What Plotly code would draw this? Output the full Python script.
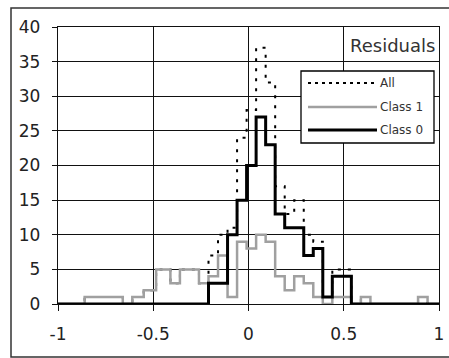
import plotly.graph_objects as go

# ---- data ----
# Bin edges (shared by Class 1 and All) and counts per bin
edges_c1 = [-1.0, -0.86, -0.66, -0.61, -0.55, -0.485, -0.41, -0.36, -0.26, -0.21,
            -0.16, -0.11, -0.06, -0.01, 0.04, 0.09, 0.14, 0.19, 0.24, 0.29,
            0.34, 0.39, 0.44, 0.54, 0.59, 0.64, 0.89, 0.94, 1.0]
class1 = [0, 1, 0, 1, 2, 5, 3, 5, 3, 4,
          7, 1, 9, 8, 10, 9, 4, 2, 4, 3,
          1, 0, 1, 0, 1, 0, 1, 0]
all_vals = [0, 1, 0, 1, 2, 5, 3, 5, 3, 7,
            10, 11, 24, 28, 37, 32, 17, 13, 15, 10,
            9, 1, 5, 0, 1, 0, 1, 0]

edges_c0 = [-1.0, -0.21, -0.11, -0.06, -0.01, 0.04, 0.09, 0.14, 0.19, 0.29,
            0.34, 0.39, 0.44, 0.54, 1.0]
class0 = [0, 3, 10, 15, 20, 27, 23, 13, 11, 7, 8, 1, 4, 0]

x_ticks = [-1, -0.5, 0, 0.5, 1]
x_tick_labels = ["-1", "-0.5", "0", "0.5", "1"]
y_ticks = [0, 5, 10, 15, 20, 25, 30, 35, 40]

series_names = ["All", "Class 1", "Class 0"]
title_text = "Residuals"

FONT = "DejaVu Sans"


def step_y(vals):
    return list(vals) + [vals[-1]]


fig = go.Figure()
fig.add_trace(go.Scatter(x=edges_c1, y=step_y(all_vals), mode="lines", line_shape="hv",
                         name=series_names[0],
                         line=dict(color="black", width=2, dash="3px,7px")))
fig.add_trace(go.Scatter(x=edges_c1, y=step_y(class1), mode="lines", line_shape="hv",
                         name=series_names[1],
                         line=dict(color="#a0a0a0", width=2.5)))
fig.add_trace(go.Scatter(x=edges_c0, y=step_y(class0), mode="lines", line_shape="hv",
                         name=series_names[2],
                         line=dict(color="black", width=3)))

# plot area in pixels: x 58..439, y 27..304
L, R, T, B = 58, 439, 27, 304
W, H = 449, 358


def px(xp):
    return (xp - L) / (R - L)


def py(yp):
    return (B - yp) / (B - T)


shapes = []
# outer chart border
shapes.append(dict(type="rect", xref="paper", yref="paper",
                   x0=px(11), x1=px(452), y0=py(357), y1=py(8),
                   line=dict(color="#333", width=1.5), fillcolor="rgba(0,0,0,0)",
                   layer="above"))
# legend box
shapes.append(dict(type="rect", xref="paper", yref="paper",
                   x0=px(301), x1=px(434), y0=py(143), y1=py(71),
                   line=dict(color="black", width=1.3), fillcolor="white", layer="above"))
legend_styles = [
    dict(color="black", width=2, dash="3px,4px"),
    dict(color="#a0a0a0", width=2.5),
    dict(color="black", width=3),
]
rows = [83, 107, 130]
annotations = []
for name, st, r in zip(series_names, legend_styles, rows):
    shapes.append(dict(type="line", xref="paper", yref="paper",
                       x0=px(308), x1=px(377), y0=py(r), y1=py(r),
                       line=st, layer="above"))
    annotations.append(dict(text=name, xref="paper", yref="paper",
                            x=px(378), y=py(r), xanchor="left", yanchor="middle",
                            showarrow=False, font=dict(family=FONT, size=12, color="#333")))

annotations.append(dict(text=title_text, xref="paper", yref="paper",
                        x=px(348), y=py(45), xanchor="left", yanchor="middle",
                        showarrow=False, font=dict(family=FONT, size=18, color="#333")))

fig.update_layout(
    width=W, height=H,
    margin=dict(l=L, r=W - R, t=T, b=H - B),
    paper_bgcolor="white", plot_bgcolor="white",
    showlegend=False,
    shapes=shapes, annotations=annotations,
    font=dict(family=FONT, size=17, color="#222"),
)
fig.update_xaxes(range=[-1, 1], tickvals=x_ticks, ticktext=x_tick_labels,
                 showgrid=True, gridcolor="#111", gridwidth=1.3,
                 showline=True, linecolor="#111", linewidth=1.3, mirror=True,
                 zeroline=False, ticks="outside", ticklen=6, tickcolor="#111",
                 tickwidth=1.3, ticklabelstandoff=8, automargin=False)
fig.update_yaxes(range=[0, 40], tickvals=y_ticks,
                 showgrid=True, gridcolor="#111", gridwidth=1.3,
                 showline=True, linecolor="#111", linewidth=1.3, mirror=True,
                 zeroline=False, ticks="outside", ticklen=5, tickcolor="#111",
                 tickwidth=1.3, ticklabelstandoff=8, automargin=False)

fig.write_html("out.html", config={"displayModeBar": False},
               post_script="document.body.style.margin='0';document.body.style.overflow='hidden';")
